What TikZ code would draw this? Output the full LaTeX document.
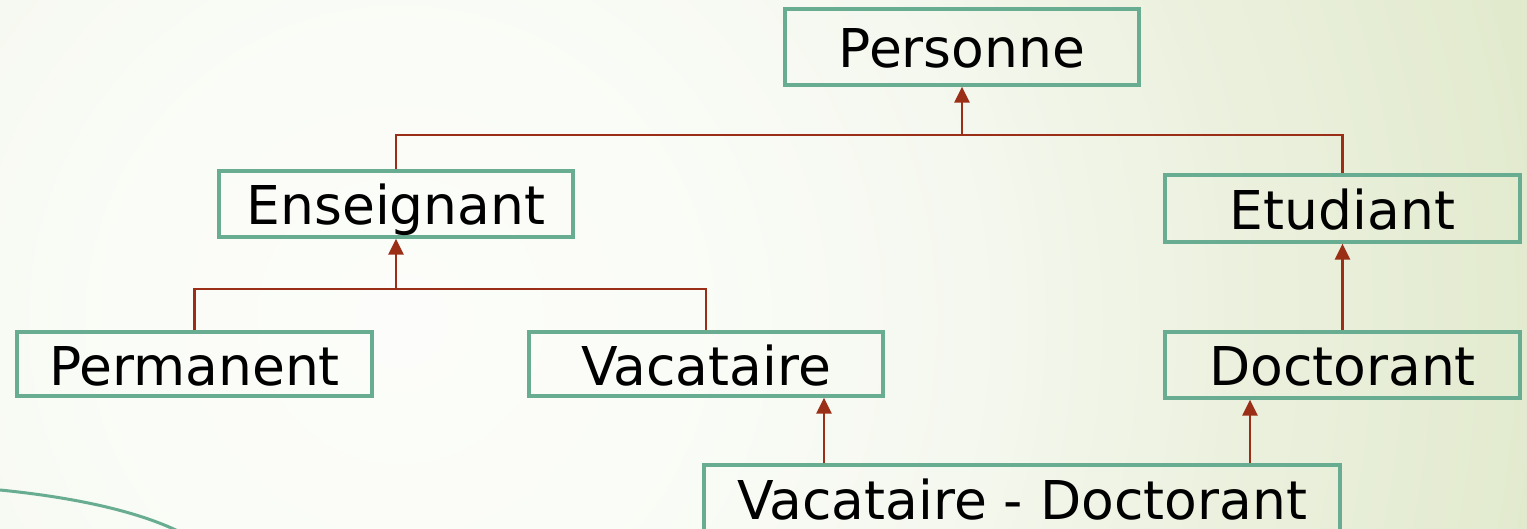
\documentclass[tikz,border=0pt]{standalone}
\usepackage{fontspec}
\setmainfont{DejaVu Sans}
\usetikzlibrary{arrows.meta}
\definecolor{boxline}{RGB}{104,172,146}
\definecolor{linkred}{RGB}{155,46,22}
\definecolor{bgcentre}{RGB}{252,253,250}
\definecolor{bgnear}{RGB}{250,252,247}
\definecolor{bgmid}{RGB}{245,248,239}
\definecolor{bgfar}{RGB}{236,241,223}
\definecolor{bgedge}{RGB}{226,234,206}
% soft glow: pale centre turning light green towards the edges
% (the inner 25bp of the radius spans half the shaded square)
\pgfdeclareradialshading{bgglow}{\pgfpoint{0bp}{0bp}}{%
  color(0bp)=(bgcentre); color(5.5bp)=(bgnear); color(11bp)=(bgmid);
  color(16bp)=(bgfar); color(22bp)=(bgedge); color(50bp)=(bgedge)}
\tikzset{
  classbox/.style={draw=boxline, line width=3.3pt, inner sep=0pt,
    text height=42pt, text depth=0pt,
    font=\fontsize{53.5}{62}\selectfont},
  link/.style={draw=linkred, line width=2.4pt},
  inherit/.style={link, -{Triangle[width=15pt,length=16pt]}},
}
\begin{document}
\begin{tikzpicture}[x=1pt,y=-1pt]
  % page and background
  \useasboundingbox (0,0) rectangle (1527,529);
  \begin{scope}
    \clip (0,0) rectangle (1527,529);
    \shade[shading=bgglow] (-900,-980) rectangle (1700,1620);
  \end{scope}
  \draw[boxline, line width=3pt] (0,490) .. controls (70,497) and (135,510) .. (180,532);

  % classes
  \node[classbox, minimum width=354pt, minimum height=76pt] (personne)   at (962,47)    {Personne};
  \node[classbox, minimum width=354pt, minimum height=66pt] (enseignant) at (396,204)   {Enseignant};
  \node[classbox, minimum width=355pt, minimum height=67pt] (etudiant)   at (1342.5,208.5) {Etudiant};
  \node[classbox, minimum width=355pt, minimum height=64pt] (permanent)  at (194.5,364) {Permanent};
  \node[classbox, minimum width=354pt, minimum height=64pt] (vacataire)  at (706,364)   {Vacataire};
  \node[classbox, minimum width=355pt, minimum height=66pt] (doctorant)  at (1342.5,365) {Doctorant};
  \node[classbox, minimum width=636pt, minimum height=66pt] (vacdoc)     at (1022,498)  {Vacataire - Doctorant};

  % junction points of the tree branches
  \coordinate (jtop) at (962,135);
  \coordinate (jens) at (396,289);
  \coordinate (xvac) at (824,0);
  \coordinate (xdoc) at (1250,0);

  % Personne <- Enseignant, Etudiant
  \draw[link] (enseignant.north) |- (jtop) -| (etudiant.north);
  \draw[inherit] (jtop) -- (personne.south);

  % Enseignant <- Permanent, Vacataire
  \draw[link] (permanent.north) |- (jens) -| (vacataire.north);
  \draw[inherit] (jens) -- (enseignant.south);

  % Etudiant <- Doctorant
  \draw[inherit] (doctorant.north) -- (etudiant.south);

  % Vacataire - Doctorant -> Vacataire, Doctorant
  \draw[inherit] (vacdoc.north -| xvac) -- (vacataire.south -| xvac);
  \draw[inherit] (vacdoc.north -| xdoc) -- (doctorant.south -| xdoc);
\end{tikzpicture}
\end{document}
